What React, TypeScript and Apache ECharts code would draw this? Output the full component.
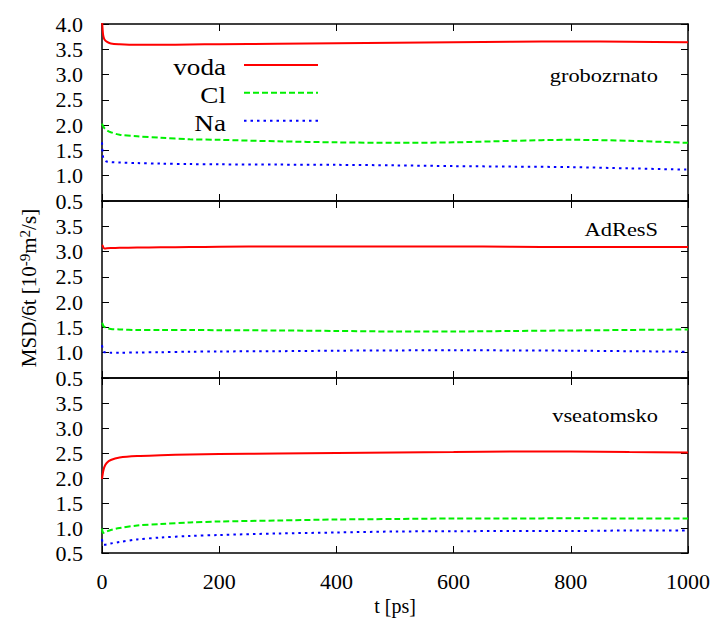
import React, { useEffect, useRef } from "react";
import * as echarts from "echarts";

// time axis [ps]
const T = [0, 1, 2, 4, 8, 15, 30, 60, 100, 150, 200, 300, 400, 500, 600, 700, 800, 900, 1000];

// grobozrnato (coarse-grained)
const GROB_VODA = [4.1, 3.9, 3.78, 3.7, 3.65, 3.615, 3.6, 3.59, 3.59, 3.595, 3.6, 3.61, 3.62, 3.63, 3.64, 3.65, 3.655, 3.65, 3.64];
const GROB_CL = [2.03, 2.0, 1.98, 1.94, 1.9, 1.86, 1.81, 1.78, 1.75, 1.72, 1.71, 1.68, 1.66, 1.65, 1.66, 1.69, 1.71, 1.69, 1.65];
const GROB_NA = [1.66, 1.45, 1.36, 1.31, 1.28, 1.27, 1.26, 1.25, 1.24, 1.23, 1.225, 1.22, 1.215, 1.205, 1.19, 1.18, 1.17, 1.145, 1.12];

// AdResS
const ADRESS_VODA = [3.13, 3.12, 3.09, 3.06, 3.065, 3.07, 3.075, 3.08, 3.085, 3.09, 3.095, 3.1, 3.1, 3.1, 3.1, 3.095, 3.09, 3.09, 3.09];
const ADRESS_CL = [1.59, 1.57, 1.54, 1.51, 1.49, 1.47, 1.46, 1.45, 1.45, 1.45, 1.445, 1.44, 1.43, 1.42, 1.42, 1.43, 1.44, 1.45, 1.46];
const ADRESS_NA = [1.15, 1.08, 1.04, 1.01, 1.01, 1.0, 1.0, 1.005, 1.01, 1.02, 1.025, 1.03, 1.04, 1.045, 1.05, 1.045, 1.04, 1.03, 1.02];

// vseatomsko (all-atom)
const VSE_VODA = [1.98, 2.06, 2.13, 2.22, 2.3, 2.36, 2.41, 2.44, 2.455, 2.47, 2.48, 2.49, 2.5, 2.51, 2.52, 2.53, 2.53, 2.52, 2.51];
const VSE_CL = [0.99, 0.92, 0.9, 0.91, 0.93, 0.96, 1.0, 1.05, 1.08, 1.11, 1.13, 1.15, 1.17, 1.18, 1.19, 1.19, 1.195, 1.19, 1.19];
const VSE_NA = [0.78, 0.7, 0.67, 0.665, 0.67, 0.69, 0.72, 0.77, 0.81, 0.84, 0.86, 0.89, 0.91, 0.93, 0.935, 0.94, 0.94, 0.95, 0.95];

const PANEL_LABELS = ["grobozrnato", "AdResS", "vseatomsko"];
const SPECIES = ["voda", "Cl", "Na"];
const PANEL_DATA = [
  [GROB_VODA, GROB_CL, GROB_NA],
  [ADRESS_VODA, ADRESS_CL, ADRESS_NA],
  [VSE_VODA, VSE_CL, VSE_NA],
];

const FONT = "'Liberation Serif', 'Times New Roman', serif";
const COLORS = ["#ff0000", "#00f000", "#0000ff"];
const DASHES: any[] = ["solid", [6, 3], [2.5, 4]];

export default function App() {
  const ref = useRef<HTMLDivElement>(null);
  useEffect(() => {
    document.body.style.margin = "0";
    const chart = echarts.init(ref.current!, null, { renderer: "svg" });
    const tops = [24, 201, 378];
    const heights = [177, 177, 175];
    const axisLine = { show: true, onZero: false, lineStyle: { color: "#000", width: 1.5 } };
    const axisTick = { show: true, inside: true, length: 7, lineStyle: { color: "#000", width: 1 } };

    const grid = tops.map((t, i) => ({
      left: 102,
      right: 34,
      top: t,
      height: heights[i],
      outerBoundsMode: "none",
      containLabel: false,
    }));

    const xAxis: any[] = [];
    const yAxis: any[] = [];
    const series: any[] = [];
    for (let i = 0; i < 3; i++) {
      const base = {
        type: "value",
        gridIndex: i,
        min: 0,
        max: 1000,
        interval: 200,
        axisLine,
        axisTick,
        splitLine: { show: false },
      };
      xAxis.push({
        ...base,
        position: "bottom",
        axisLabel: {
          show: i === 2,
          fontFamily: FONT,
          fontSize: 22,
          color: "#000",
          margin: 17,
          formatter: (v: number) => String(v),
        },
        name: i === 2 ? "t [ps]" : "",
        nameLocation: "middle",
        nameGap: 43,
        nameTextStyle: { fontFamily: FONT, fontSize: 20, color: "#000" },
      });
      xAxis.push({ ...base, position: "top", axisLabel: { show: false } });
      const ybase = {
        type: "value",
        gridIndex: i,
        min: 0.5,
        max: 4,
        interval: 0.5,
        axisLine,
        axisTick,
        splitLine: { show: false },
      };
      yAxis.push({
        ...ybase,
        position: "left",
        axisLabel: {
          fontFamily: FONT,
          fontSize: 22,
          color: "#000",
          margin: 19,
          formatter: (v: number) => (i > 0 && v === 4 ? "" : v.toFixed(1)),
        },
      });
      yAxis.push({ ...ybase, position: "right", axisLabel: { show: false } });

      PANEL_DATA[i].forEach((arr, j) => {
        series.push({
          type: "line",
          name: SPECIES[j],
          xAxisIndex: i * 2,
          yAxisIndex: i * 2,
          data: T.map((t, k) => [t, arr[k]]),
          showSymbol: false,
          smooth: 0.3,
          clip: true,
          silent: true,
          lineStyle: { color: COLORS[j], width: 2, type: DASHES[j] },
          itemStyle: { color: COLORS[j] },
        });
      });
    }

    const legendText = [67.2, 94.9, 123.2];
    const legendLine = [65, 92.7, 120.7];
    const graphic: any[] = [];
    SPECIES.forEach((s, j) => {
      graphic.push({
        type: "text",
        x: 226,
        y: legendText[j],
        scaleX: 1.18,
        style: { text: s, fontFamily: FONT, fontSize: 23, fill: "#000", align: "right", verticalAlign: "middle" },
      });
      graphic.push({
        type: "line",
        shape: { x1: 244, y1: legendLine[j], x2: 318, y2: legendLine[j] },
        style: {
          stroke: COLORS[j],
          lineWidth: 2,
          lineDash: j === 0 ? null : DASHES[j],
        },
      });
    });
    const panelY = [75.5, 229.5, 415.5];
    PANEL_LABELS.forEach((p, i) => {
      graphic.push({
        type: "text",
        x: 658,
        y: panelY[i],
        scaleX: 1.18,
        style: { text: p, fontFamily: FONT, fontSize: 19, fill: "#000", align: "right", verticalAlign: "middle" },
      });
    });
    graphic.push({
      type: "text",
      x: 28,
      y: 288,
      rotation: Math.PI / 2,
      style: {
        text: "{a|MSD/6t [10}{b|-9}{a|m}{b|2}{a|/s]}",
        align: "center",
        verticalAlign: "middle",
        rich: {
          a: { fontFamily: FONT, fontSize: 21, fill: "#000", lineHeight: 22, verticalAlign: "bottom" },
          b: { fontFamily: FONT, fontSize: 15, fill: "#000", lineHeight: 4, verticalAlign: "top" },
        },
      },
    });

    chart.setOption({
      animation: false,
      backgroundColor: "#fff",
      grid,
      xAxis,
      yAxis,
      series,
      graphic,
    });
    return () => chart.dispose();
  }, []);
  return <div ref={ref} style={{ width: 722, height: 624 }} />;
}
